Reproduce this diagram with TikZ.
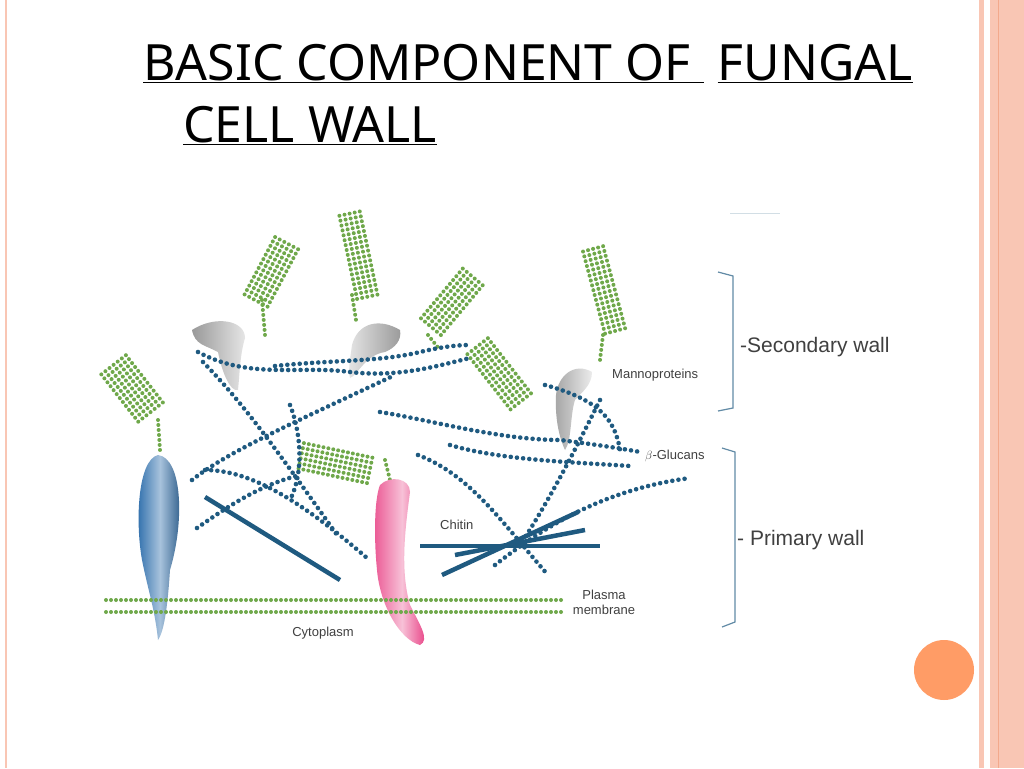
\documentclass[tikz,border=0pt]{standalone}
\usepackage{fontspec}
\setmainfont{Noto Sans}
\newfontfamily\lab{Liberation Sans}
\begin{document}
\begin{tikzpicture}[x=1pt,y=-1pt,
  chain/.style={draw=cb, line width=4.6pt, line cap=round, dash pattern=on 0pt off 6.2pt},
  chit/.style={draw=cb, line width=4.5pt},
  gdots/.style={draw=gg, line width=4pt, line cap=round, dash pattern=on 0pt off 5pt},
  lbl/.style={font=\lab\fontsize{13}{15}\selectfont, text=black!75, inner sep=0pt},
  big/.style={font=\lab\fontsize{21}{24}\selectfont, text=black!75, inner sep=0pt},
  brk/.style={draw=cb!70, line width=1.2pt}]
\definecolor{cb}{HTML}{1F5A80}
\definecolor{gg}{HTML}{6FA84A}
\definecolor{pk}{HTML}{F9C6B4}
\definecolor{pk2}{HTML}{F3A98C}
\definecolor{bp}{HTML}{2568A8}
\definecolor{mg}{HTML}{E6307A}
\useasboundingbox (0,0) rectangle (1024,768);
\fill[white] (0,0) rectangle (1024,768);
% borders
\fill[pk] (979,0) rectangle (984,768);
\fill[pk] (990,0) rectangle (1024,768);
\draw[pk2, line width=1pt] (998,0) -- (998,768);
\draw[pk, line width=1.5pt] (6,0) -- (6,768);
% title
\node[anchor=base west, inner sep=0pt, font=\fontsize{50}{58}\selectfont] (t1) at (143,80) {\underline{BASIC COMPONENT OF }\hspace{14pt}\underline{FUNGAL}};
\node[anchor=base west, inner sep=0pt, font=\fontsize{50}{58}\selectfont] (t2) at (183,142) {\underline{CELL WALL}};
\fill[orange!70!red!60] (944,670) circle (30) node (dot) {};
% grid macro
\newcommand\ggrid[5]{% x y angle n len
  \begin{scope}[shift={(#1,#2)}, rotate=#3]
  \foreach \i in {1,...,#4} {\draw[gdots] (0,\i*5.2) -- (#5,\i*5.2);}
  \end{scope}}
% green grids
\ggrid{240}{292}{62}{6}{68}
\draw[gdots] (262,300) -- (265,335);
\ggrid{352}{300}{102}{5}{85}
\draw[gdots] (352,295) -- (356,320);
\ggrid{417}{315}{50}{6}{68}
\draw[gdots] (428,335) -- (440,350);
\ggrid{600}{335}{105}{5}{88}
\draw[gdots] (603,335) -- (600,360);
\ggrid{492}{335}{-52}{6}{72}
\ggrid{130}{352}{-52}{7}{62}
\draw[gdots] (158,420) -- (160,450);
\ggrid{305}{438}{-12}{6}{70}
\draw[gdots] (385,460) -- (390,480);
% gray mannoprotein blobs
\shade[left color=gray!80, right color=gray!20] (192,330) .. controls (215,315) and (245,320) .. (245,338) .. controls (240,355) and (240,370) .. (238,390) .. controls (230,392) and (222,372) .. (218,352) .. controls (205,345) and (195,345) .. cycle;
\shade[left color=gray!20, right color=gray!80] (400,330) .. controls (380,318) and (358,322) .. (352,345) .. controls (350,360) and (348,370) .. (350,378) .. controls (358,375) and (365,355) .. (385,352) .. controls (395,348) and (402,340) .. cycle;
\shade[left color=gray!70, right color=gray!15] (592,372) .. controls (575,362) and (558,375) .. (556,395) .. controls (555,415) and (558,435) .. (565,450) .. controls (572,440) and (570,415) .. (575,400) .. controls (582,392) and (592,385) .. cycle;
% blue chains
\draw[chain] (198,352) .. controls (250,380) and (300,365) .. (350,372) .. controls (400,378) and (440,365) .. (470,358);
\draw[chain] (275,366) .. controls (330,360) and (380,362) .. (420,352) .. controls (445,346) and (460,345) .. (470,345);
\draw[chain] (203,362) .. controls (240,400) and (270,440) .. (337,535);
\draw[chain] (192,480) .. controls (230,450) and (300,420) .. (395,375);
\draw[chain] (205,470) .. controls (250,470) and (300,500) .. (367,558);
\draw[chain] (197,528) .. controls (230,505) and (260,485) .. (300,475);
\draw[chain] (290,405) .. controls (300,430) and (305,470) .. (290,500);
\draw[chit] (205,497) -- (340,580);
\draw[chain] (380,412) .. controls (430,420) and (500,440) .. (560,440) .. controls (600,445) and (630,450) .. (640,452);
\draw[chain] (450,445) .. controls (500,460) and (570,462) .. (630,466);
\draw[chain] (545,385) .. controls (600,400) and (615,420) .. (620,450);
\draw[chain] (418,455) .. controls (470,475) and (500,520) .. (548,575);
\draw[chain] (495,565) .. controls (540,530) and (600,490) .. (690,478);
\draw[chain] (600,400) .. controls (580,440) and (550,500) .. (520,545);
\draw[chit] (420,546) -- (600,546);
\draw[chit] (442,575) -- (578,512);
\draw[chit] (455,555) -- (585,530);
% proteins
\shade[left color=bp, right color=bp!75!black, middle color=bp!40] (158,455) .. controls (138,460) and (135,520) .. (142,560) .. controls (148,590) and (155,610) .. (158,640) .. controls (165,630) and (168,600) .. (170,570) .. controls (185,520) and (182,458) .. (158,455) -- cycle;
\shade[left color=mg!80, right color=mg, middle color=mg!30] (380,485) .. controls (390,475) and (410,478) .. (410,492) .. controls (405,530) and (400,570) .. (410,605) .. controls (420,625) and (430,640) .. (420,645) .. controls (400,640) and (380,605) .. (377,570) .. controls (374,540) and (374,500) .. (380,485) -- cycle;
% membrane
\draw[gdots] (106,600) -- (562,600);
\draw[gdots] (106,612) -- (562,612);
% labels
\node[lbl, anchor=west] (mp) at (612,375) {Mannoproteins};
\node[lbl, anchor=west] (bg) at (645,456) {$\beta$-Glucans};
\node[lbl, anchor=west] (ch) at (440,525) {Chitin};
\node[lbl, align=center] (pm) at (604,602) {Plasma\\membrane};
\node[lbl] (cy) at (323,633) {Cytoplasm};
\node[big, anchor=west] (sw) at (740,347) {-Secondary wall};
\node[big, anchor=west] (pw) at (737,540) {- Primary wall};
% brackets
\draw[brk] (718,272) -- (733,276) -- (733,408) -- (718,411);
\draw[brk] (722,448) -- (735,452) -- (735,622) -- (722,627);
\draw[cb!20, line width=1pt] (730,213) -- (780,213);
\end{tikzpicture}
\end{document}
